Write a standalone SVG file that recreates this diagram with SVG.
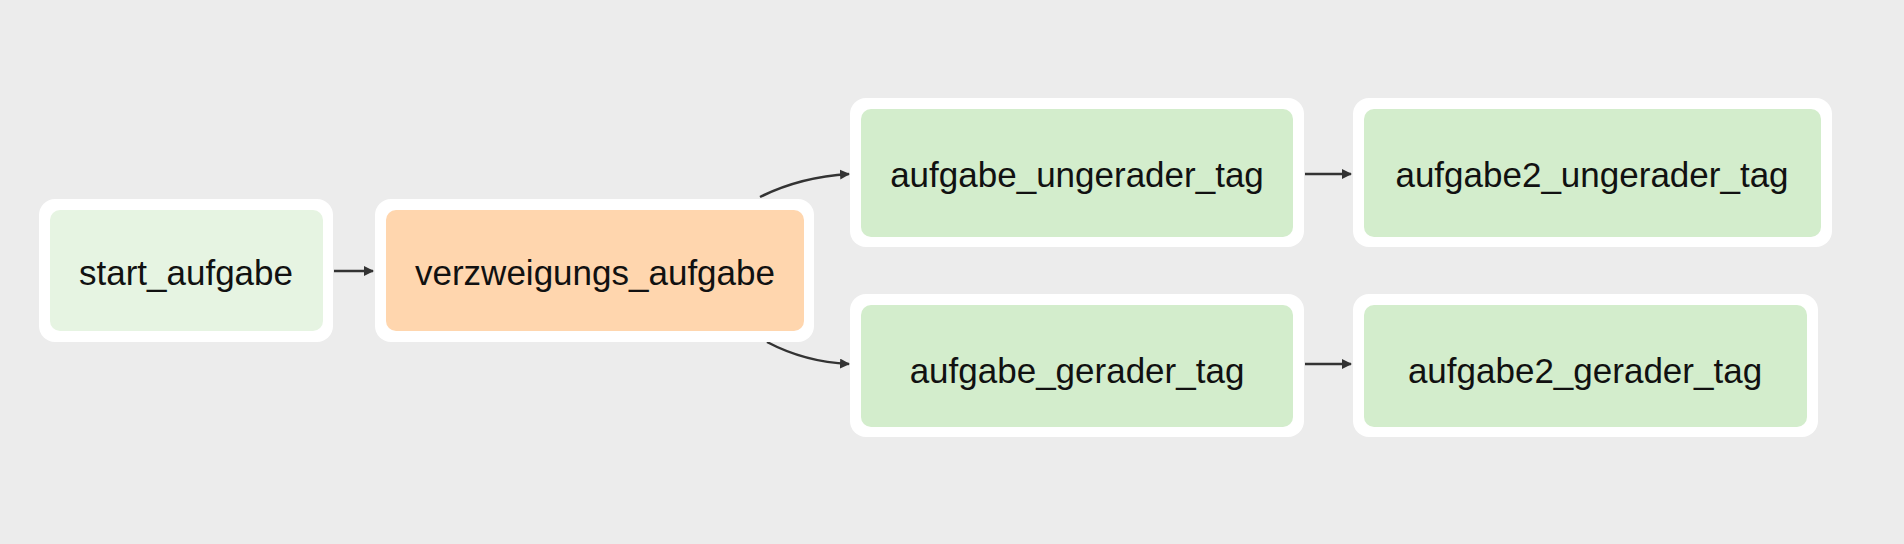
<svg xmlns="http://www.w3.org/2000/svg" width="1904" height="544" viewBox="0 0 1904 544">
<defs>
<style>
.o{fill:#fff}
.t{font-family:"Liberation Sans",Arial,sans-serif;font-size:35px;fill:#111;text-anchor:middle;dominant-baseline:central}
.e{fill:none;stroke:#333;stroke-width:2.5}
</style>
<marker id="a" viewBox="0 0 10 10" refX="9" refY="5" markerWidth="4" markerHeight="4" orient="auto"><path d="M0,0L10,5L0,10z" fill="#333"/></marker>
</defs>
<rect width="1904" height="544" fill="#ececec"/>
<g id="connectors">
<path class="e" d="M334,271H373" marker-end="url(#a)"/>
<path class="e" d="M760,197Q800,177 849,174" marker-end="url(#a)"/>
<path class="e" d="M767,342Q805,362 849,364" marker-end="url(#a)"/>
<path class="e" d="M1305,174H1351" marker-end="url(#a)"/>
<path class="e" d="M1305,364H1351" marker-end="url(#a)"/>
</g>
<g id="start_aufgabe"><rect class="o" x="39" y="199" width="294" height="143" rx="16"/><rect x="50" y="210" width="273" height="121" rx="10" fill="#e6f4e2"/><text class="t" x="186" y="272">start_aufgabe</text></g>
<g id="verzweigungs_aufgabe"><rect class="o" x="375" y="199" width="439" height="143" rx="16"/><rect x="386" y="210" width="418" height="121" rx="10" fill="#ffd6ae"/><text class="t" x="595" y="272">verzweigungs_aufgabe</text></g>
<g id="aufgabe_ungerader_tag"><rect class="o" x="850" y="98" width="454" height="149" rx="16"/><rect x="861" y="109" width="432" height="128" rx="10" fill="#d3edcc"/><text class="t" x="1077" y="174">aufgabe_ungerader_tag</text></g>
<g id="aufgabe2_ungerader_tag"><rect class="o" x="1353" y="98" width="479" height="149" rx="16"/><rect x="1364" y="109" width="457" height="128" rx="10" fill="#d3edcc"/><text class="t" x="1592" y="174">aufgabe2_ungerader_tag</text></g>
<g id="aufgabe_gerader_tag"><rect class="o" x="850" y="294" width="454" height="143" rx="16"/><rect x="861" y="305" width="432" height="122" rx="10" fill="#d3edcc"/><text class="t" x="1077" y="370">aufgabe_gerader_tag</text></g>
<g id="aufgabe2_gerader_tag"><rect class="o" x="1353" y="294" width="465" height="143" rx="16"/><rect x="1364" y="305" width="443" height="122" rx="10" fill="#d3edcc"/><text class="t" x="1585" y="370">aufgabe2_gerader_tag</text></g>
</svg>
